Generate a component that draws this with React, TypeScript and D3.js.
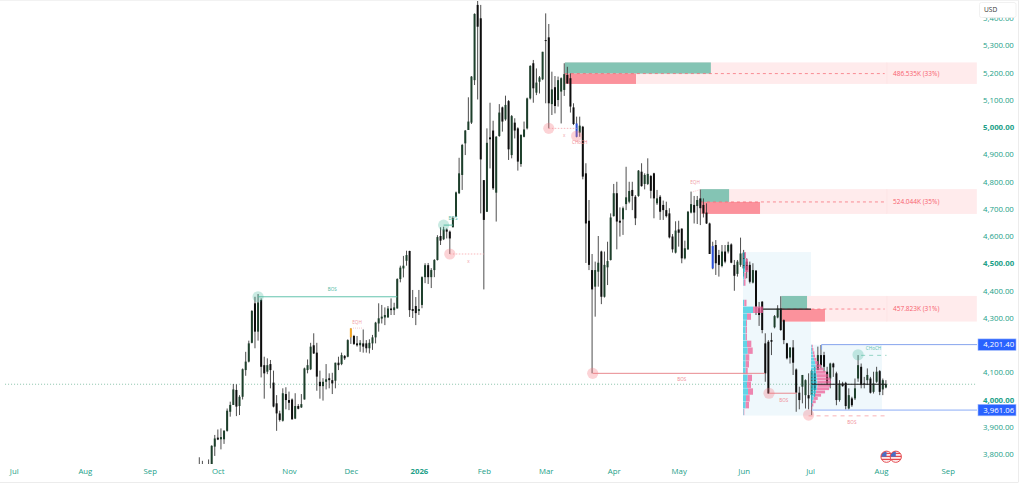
import React, { useEffect, useRef } from 'react';
import * as d3 from 'd3';

// daily candles, left to right
const opens = [
  3750,3745,3745,3750,3755,3827,3860,3854,3854,3885,
  3955,3980,4035,3976,4010,4108,4139,4208,4353,4249,
  4365,4126,4102,4130,4062,3986,3949,3922,4020,3998,
  4000,3930,3976,3971,4000,4108,4111,4199,4172,4065,
  4049,4065,4078,4071,4069,4135,4130,4160,4157,4228,
  4233,4206,4199,4206,4206,4188,4206,4228,4279,4297,
  4301,4301,4334,4328,4334,4442,4481,4509,4545,4332,
  4343,4325,4347,4449,4493,4449,4475,4512,4600,4588,
  4624,4616,4632,4671,4757,4824,4940,4989,5016,5172,
  5448,5399,4805,4689,4962,4987,4759,4967,5072,5028,
  5095,4897,5016,4995,4864,4964,4995,5105,5234,5126,
  5166,5175,5319,5329,5084,5146,5099,5130,5136,5191,
  5179,5072,5013,4979,5001,4830,4656,4475,4414,4469,
  4543,4377,4485,4512,4673,4757,4656,4661,4717,4726,
  4769,4744,4747,4836,4791,4791,4820,4830,4720,4744,
  4714,4695,4683,4598,4539,4624,4627,4518,4551,4686,
  4714,4710,4738,4714,4686,4646,4563,4567,4530,4490,
  4543,4543,4569,4494,4461,4494,4539,4506,4494,4429,
  4473,4335,4359,4206,4212,4218,4265,4301,4334,4291,
  4206,4154,4191,4110,4025,4047,4016,4016,4016,4096,
  4108,4163,4163,4102,4077,4132,4096,3998,4059,4061,
  3967,4004,4004,4077,4120,4059,4071,4077,4028,4065,
  4104,4037,4044,
];
const highs = [
  3788,3775,3755,3780,3832,3870,3890,3894,3888,3967,
  3992,4057,4056,4016,4114,4175,4216,4328,4377,4387,
  4371,4157,4151,4145,4106,4016,3959,4041,4045,4029,
  4004,4023,3983,4020,4117,4147,4208,4243,4208,4106,
  4078,4130,4096,4098,4135,4157,4172,4163,4221,4261,
  4237,4233,4218,4257,4218,4221,4237,4285,4353,4347,
  4338,4343,4371,4355,4445,4491,4527,4546,4546,4402,
  4376,4402,4452,4500,4501,4482,4515,4603,4632,4634,
  4628,4620,4671,4763,4887,4938,4989,5109,5187,5417,
  5466,5448,4805,4995,5089,5023,4967,5084,5075,5115,
  5099,5044,5032,4999,4973,5020,5108,5227,5246,5215,
  5187,5276,5417,5378,5203,5187,5185,5182,5234,5221,
  5197,5087,5038,5038,5004,4867,4732,4534,4506,4600,
  4546,4543,4579,4683,4791,4799,4705,4708,4854,4799,
  4799,4750,4842,4867,4830,4885,4824,4832,4769,4750,
  4730,4726,4702,4607,4654,4656,4628,4583,4692,4763,
  4747,4747,4771,4738,4720,4649,4579,4585,4549,4567,
  4567,4579,4573,4512,4512,4594,4549,4518,4506,4500,
  4475,4358,4361,4243,4218,4245,4310,4346,4379,4294,
  4208,4191,4218,4114,4047,4090,4074,4096,4110,4120,
  4194,4200,4175,4120,4135,4135,4102,4071,4065,4065,
  4041,4010,4077,4163,4132,4083,4114,4083,4102,4120,
  4108,4077,4071,
];
const lows = [
  3735,3730,3730,3735,3745,3793,3851,3817,3837,3882,
  3937,3980,3939,3943,4000,4087,4136,4206,4188,4216,
  4081,4003,4093,4041,3971,3885,3919,3919,3964,3961,
  3927,3928,3964,3969,4000,4096,4108,4167,4032,4003,
  3996,4037,4041,4020,4041,4108,4126,4145,4155,4204,
  4200,4194,4175,4172,4172,4169,4182,4206,4249,4279,
  4273,4301,4310,4310,4334,4430,4448,4491,4303,4299,
  4273,4310,4335,4427,4424,4409,4449,4510,4567,4585,
  4591,4534,4632,4671,4754,4769,4897,4989,5011,5154,
  5101,4683,4404,4688,4848,4769,4653,4964,4983,5023,
  4879,4885,4958,4840,4854,4962,4991,5101,5089,5117,
  5123,5172,5087,4995,5044,5050,5075,5013,5114,5158,
  5053,5007,4962,4964,4808,4501,4475,4096,4304,4414,
  4350,4374,4420,4510,4671,4551,4598,4604,4695,4720,
  4695,4640,4744,4781,4771,4787,4738,4665,4714,4659,
  4659,4668,4591,4539,4536,4561,4500,4514,4549,4683,
  4646,4644,4640,4668,4644,4534,4478,4457,4451,4485,
  4500,4536,4500,4399,4451,4487,4451,4445,4426,4426,
  4310,4270,4243,4065,4022,4163,4261,4298,4252,4203,
  4147,4132,4090,3955,3964,3986,3967,3964,3943,4010,
  4108,4114,4102,4053,4041,4083,3979,3992,4047,3961,
  3961,3973,3998,4065,4041,4041,4053,4022,4022,4061,
  4016,4016,4041,
];
const closes = [
  3755,3750,3750,3758,3830,3857,3853,3862,3885,3959,
  3980,4037,3974,4010,4111,4139,4206,4325,4249,4356,
  4120,4096,4126,4108,3974,3949,3925,4023,3998,3988,
  3927,3976,3966,3983,4114,4126,4194,4169,4084,4049,
  4065,4074,4071,4059,4135,4126,4163,4151,4218,4261,
  4204,4199,4208,4194,4188,4208,4228,4282,4298,4304,
  4310,4334,4328,4338,4442,4484,4491,4530,4328,4325,
  4317,4332,4449,4493,4449,4475,4512,4596,4583,4624,
  4616,4591,4665,4760,4830,4934,4987,5020,5185,5415,
  5368,4881,4659,4942,4955,4775,4964,5053,5020,5081,
  4918,5040,4987,4873,4971,4991,5105,5224,5142,5163,
  5182,5276,5317,5087,5138,5077,5172,5179,5194,5160,
  5075,5011,4964,5005,4818,4646,4494,4404,4475,4502,
  4377,4494,4508,4668,4757,4653,4649,4702,4742,4765,
  4747,4665,4840,4783,4824,4828,4766,4738,4738,4689,
  4695,4673,4595,4551,4620,4612,4518,4555,4689,4717,
  4686,4732,4702,4683,4646,4534,4481,4500,4494,4543,
  4506,4567,4502,4454,4506,4536,4481,4475,4432,4475,
  4341,4310,4255,4096,4022,4212,4306,4334,4255,4218,
  4151,4191,4135,4025,3998,4090,4071,4004,4105,4035,
  4163,4126,4120,4059,4132,4118,3998,4059,4049,3976,
  4016,3979,4041,4126,4053,4057,4090,4025,4059,4102,
  4028,4071,4056,
];
const paintedBars: Record<number, string> = { 49: '#f5a623', 122: '#2a50d8', 166: '#2a50d8' };

const priceTicks = [5400, 5300, 5200, 5100, 5000, 4900, 4800, 4700, 4600, 4500, 4400, 4300, 4100, 4000, 3900, 3800];
const boldPrices = [5000, 4500, 4000];
const monthLabels = ['Jul', 'Aug', 'Sep', 'Oct', 'Nov', 'Dec', '2026', 'Feb', 'Mar', 'Apr', 'May', 'Jun', 'Jul', 'Aug', 'Sep'];
const monthBars = [-60, -37, -16, 6, 29, 49, 71, 92, 112, 134, 155, 176, 197.5, 220.4, 242];

// supply zones: [green from, green to, red to, top, middle, bottom, label]
const zones: [number, number, number, number, number, number, string][] = [
  [118.2, 165.4, 141.2, 5237, 5196, 5158, '486.535K (33%)'],
  [162.2, 171.3, 181.3, 4772, 4725, 4681, '524.044K (35%)'],
  [188.2, 196.5, 202.3, 4380, 4332, 4286, '457.823K (31%)'],
];
const zoneEndBar = 251.4;
const zoneLabelBar = 224.3;
const zoneDashEndBar = 221.6;

// volume profiles, one row per price bin: buy part, sell part
const profile1Top = 4541;
const profile1Step = 25;
const profile1Buy = [15, 25, 20, 13, 7, 0, 0, 13, 100, 40, 30, 27, 27, 40, 47, 27, 27, 27, 47, 40, 50, 30, 27, 7];
const profile1Sell = [15, 25, 35, 17, 18, 0, 0, 22, 100, 40, 10, 13, 13, 43, 50, 36, 33, 20, 43, 40, 50, 37, 33, 6];
const profile2Top = 4201;
const profile2Step = 12;
const profile2Buy = [7, 10, 17, 20, 30, 40, 47, 50, 50, 57, 60, 63, 63, 60, 50, 40, 27, 17, 7, 3];
const profile2Sell = [10, 13, 16, 20, 23, 33, 53, 73, 97, 116, 133, 137, 130, 120, 90, 60, 40, 30, 16, 7];

const greenCircles = [[19, 4377], [79, 4640], [213, 4164]];
const pinkCircles = [[81, 4534], [113, 4995], [122, 4967], [127.2, 4096], [184.2, 4023], [197, 3943]];
// structure lines: from bar, to bar, price, colour, dash
const structureLines: [number, number, number, string, string][] = [
  [19, 64, 4377, '#63c4ae', ''],
  [79, 82, 4640, '#63c4ae', ''],
  [81, 92, 4534, '#f7a6ac', '1.5 1.5'],
  [113, 122, 4995, '#f7a6ac', '1.5 1.5'],
  [127.2, 182.9, 4096, '#e88a90', ''],
  [184.2, 193.2, 4023, '#e88a90', ''],
  [197, 222.2, 3940, '#f9a0a6', '4 4'],
  [214, 222.2, 4162, '#7ccbb8', '4 4'],
];
const tinyLabels: [string, number, number, string][] = [
  ['BOS', 43, 4405, '#4fb8a2'],
  ['BOS', 82, 4666, '#4fb8a2'],
  ['EQH', 51, 4282, '#f09aa4'],
  ['EQH', 160.3, 4795, '#f09aa4'],
  ['x', 87, 4508, '#f09aa4'],
  ['x', 118, 4968, '#f09aa4'],
  ['CHoCH', 123, 4942, '#f08a94'],
  ['BOS', 156, 4074, '#f08a94'],
  ['BOS', 189, 3997, '#f08a94'],
  ['BOS', 211, 3916, '#f08a94'],
  ['CHoCH', 218, 4189, '#5cbfae'],
];

const lastPrice = 4056;
const boxHigh = 4201.4;
const boxLow = 3961.06;
const eventBars = [222.2, 225.2];
const eventPrice = 3790;

const chartRight = 977;
const plotBottom = 464;
const tealText = '#22a088';
const fontFamily = "'Open Sans', 'Noto Sans', sans-serif";

export default function App() {
  const svgRef = useRef<SVGSVGElement>(null);

  useEffect(() => {
    if (!svgRef.current) return;
    const svg = d3.select(svgRef.current);
    svg.selectAll('*').remove();

    const x = d3.scaleLinear().domain([0, 222]).range([199.3, 885.9]);
    const y = d3.scaleLinear().domain([5000, 3800]).range([127, 454]);
    const bodyWidth = 2;

    svg.append('clipPath').attr('id', 'plot')
      .append('rect').attr('x', 0).attr('y', 0).attr('width', chartRight).attr('height', plotBottom);

    const plot = svg.append('g').attr('clip-path', 'url(#plot)');

    // volume profile boxes go first, the zones sit over them
    const drawProfileBox = (fromBar: number, toBar: number, top: number, step: number, rows: number) => {
      plot.append('rect').attr('x', x(fromBar)).attr('y', y(top)).attr('width', x(toBar) - x(fromBar))
        .attr('height', y(top - step * rows) - y(top)).attr('fill', '#eff8fc');
    };
    drawProfileBox(175.8, 197.8, profile1Top, profile1Step, profile1Buy.length);
    drawProfileBox(197.8, 220.7, profile2Top, profile2Step, profile2Buy.length);

    zones.forEach(([from, greenTo, redTo, top, mid, bottom]) => {
      plot.append('rect').attr('x', x(from)).attr('y', y(top)).attr('width', x(zoneEndBar) - x(from))
        .attr('height', y(bottom) - y(top)).attr('fill', '#ffebec');
      plot.append('rect').attr('x', x(from)).attr('y', y(top)).attr('width', x(greenTo) - x(from))
        .attr('height', y(mid) - y(top)).attr('fill', '#84c4b4');
      plot.append('rect').attr('x', x(from) + 0.5).attr('y', y(mid)).attr('width', x(redTo) - x(from) - 0.5)
        .attr('height', y(bottom) - y(mid)).attr('fill', '#fb929c');
      plot.append('line').attr('x1', x(from)).attr('x2', x(zoneDashEndBar)).attr('y1', y(mid)).attr('y2', y(mid))
        .attr('stroke', '#f7636f').attr('stroke-width', 0.7).attr('stroke-dasharray', '3 3');
      plot.append('line').attr('x1', x(222.3)).attr('x2', x(222.3)).attr('y1', y(top)).attr('y2', y(bottom))
        .attr('stroke', '#fde0e2').attr('stroke-width', 0.6);
    });

    // last price dotted line
    plot.append('line').attr('x1', x(-62.8)).attr('x2', chartRight).attr('y1', y(lastPrice)).attr('y2', y(lastPrice))
      .attr('stroke', '#6fb596').attr('stroke-width', 0.8).attr('stroke-dasharray', '1 2');

    // candles
    const bars = d3.range(opens.length);
    const candles = plot.append('g');
    candles.selectAll('line').data(bars).join('line')
      .attr('x1', d => x(d)).attr('x2', d => x(d))
      .attr('y1', d => y(highs[d])).attr('y2', d => y(lows[d]))
      .attr('stroke', '#3a3a3a').attr('stroke-width', 0.9);
    candles.selectAll('rect').data(bars).join('rect')
      .attr('x', d => x(d) - bodyWidth / 2)
      .attr('width', bodyWidth)
      .attr('y', d => y(Math.max(opens[d], closes[d])))
      .attr('height', d => Math.max(Math.abs(y(opens[d]) - y(closes[d])), 1))
      .attr('fill', d => paintedBars[d] ?? (closes[d] >= opens[d] ? '#1d3f2b' : '#0d0d0d'));

    // profile rows are see-through, candles show under them
    const volumeWidth = d3.scaleLinear().domain([0, 100]).range([0, 10]);
    const drawProfileRows = (fromBar: number, top: number, step: number, buy: number[], sell: number[]) => {
      const rows = plot.append('g').attr('opacity', 0.72);
      buy.forEach((b, i) => {
        const rowY = y(top - step * i);
        const rowH = Math.max(y(top - step * (i + 1)) - rowY - 0.4, 0.5);
        rows.append('rect').attr('x', x(fromBar)).attr('y', rowY).attr('width', volumeWidth(b)).attr('height', rowH)
          .attr('fill', '#2cc8e0');
        rows.append('rect').attr('x', x(fromBar) + volumeWidth(b)).attr('y', rowY).attr('width', volumeWidth(sell[i])).attr('height', rowH)
          .attr('fill', '#ee5a94');
      });
    };
    drawProfileRows(175.8, profile1Top, profile1Step, profile1Buy, profile1Sell);
    drawProfileRows(197.8, profile2Top, profile2Step, profile2Buy, profile2Sell);

    // structure lines, circles
    structureLines.forEach(([from, to, price, color, dash]) => {
      plot.append('line').attr('x1', x(from)).attr('x2', x(to)).attr('y1', y(price)).attr('y2', y(price))
        .attr('stroke', color).attr('stroke-width', dash ? 0.8 : 1).attr('stroke-dasharray', dash);
    });
    plot.selectAll('circle.green').data(greenCircles).join('circle').attr('class', 'green')
      .attr('cx', d => x(d[0])).attr('cy', d => y(d[1])).attr('r', 5.6).attr('fill', 'rgba(60,180,150,0.28)');
    plot.selectAll('circle.pink').data(pinkCircles).join('circle').attr('class', 'pink')
      .attr('cx', d => x(d[0])).attr('cy', d => y(d[1])).attr('r', 5.6).attr('fill', 'rgba(245,120,130,0.33)');

    // POC lines
    plot.append('line').attr('x1', x(182.3)).attr('x2', x(197.8)).attr('y1', y(4332)).attr('y2', y(4332))
      .attr('stroke', '#222').attr('stroke-width', 1.2);
    plot.append('line').attr('x1', x(198)).attr('x2', x(222.2)).attr('y1', y(lastPrice)).attr('y2', y(lastPrice))
      .attr('stroke', '#222').attr('stroke-width', 1.2);

    // range box lines
    plot.append('path')
      .attr('d', `M${x(201.2)},${y(boxHigh) + 5}V${y(boxHigh)}H${chartRight}`)
      .attr('fill', 'none').attr('stroke', '#86a4ee').attr('stroke-width', 1);
    plot.append('line').attr('x1', x(198.1)).attr('x2', chartRight).attr('y1', y(boxLow)).attr('y2', y(boxLow))
      .attr('stroke', '#bccffa').attr('stroke-width', 1.8);

    // EQH dashes
    plot.append('line').attr('x1', x(159.6)).attr('x2', x(162.1)).attr('y1', y(4762)).attr('y2', y(4771))
      .attr('stroke', '#f7a6ac').attr('stroke-width', 0.6).attr('stroke-dasharray', '1 1');
    plot.append('line').attr('x1', x(49.7)).attr('x2', x(53)).attr('y1', y(4262)).attr('y2', y(4262))
      .attr('stroke', '#f7a6ac').attr('stroke-width', 0.6).attr('stroke-dasharray', '1 1');

    // labels
    tinyLabels.forEach(([text, bar, price, color]) => {
      plot.append('text').attr('x', x(bar)).attr('y', y(price)).attr('dy', '0.35em')
        .attr('text-anchor', 'middle').attr('font-size', 4.6).attr('font-family', fontFamily)
        .attr('fill', color).text(text);
    });
    zones.forEach(([, , , , mid, , label]) => {
      plot.append('text').attr('x', x(zoneLabelBar)).attr('y', y(mid)).attr('dy', '0.35em')
        .attr('font-size', 6.5).attr('font-family', fontFamily).attr('fill', '#f7606c').text(label);
    });

    // event flags
    eventBars.forEach(bar => {
      const cx = x(bar);
      const cy = y(eventPrice);
      const id = `flag${bar}`;
      const flag = svg.append('g');
      flag.append('clipPath').attr('id', id).append('circle').attr('cx', cx).attr('cy', cy).attr('r', 5.6);
      const inner = flag.append('g').attr('clip-path', `url(#${id})`);
      inner.append('rect').attr('x', cx - 6).attr('y', cy - 6).attr('width', 12).attr('height', 12).attr('fill', '#fff');
      d3.range(3).forEach(i => {
        inner.append('rect').attr('x', cx - 6).attr('y', cy - 4 + i * 3).attr('width', 12).attr('height', 1.4).attr('fill', '#e5484d');
      });
      inner.append('rect').attr('x', cx - 6).attr('y', cy - 6).attr('width', 6).attr('height', 6).attr('fill', '#4a6fc4');
      flag.append('circle').attr('cx', cx).attr('cy', cy).attr('r', 5.6).attr('fill', 'none').attr('stroke', '#e5484d').attr('stroke-width', 1);
    });

    // price axis
    const priceAxis = svg.append('g').attr('transform', `translate(${chartRight},0)`)
      .call(d3.axisRight(y).tickValues(priceTicks).tickSize(0).tickPadding(6).tickFormat(d => d3.format(',.2f')(d as number)));
    priceAxis.select('.domain').remove();
    priceAxis.selectAll('text')
      .attr('font-family', fontFamily).attr('font-size', 7.8).attr('fill', tealText)
      .attr('font-weight', d => (boldPrices.includes(d as number) ? 700 : 400));

    // time axis
    const timeAxis = svg.append('g').attr('transform', `translate(0,${plotBottom})`)
      .call(d3.axisBottom(x).tickValues(monthBars).tickSize(0).tickPadding(4).tickFormat((_, i) => monthLabels[i]));
    timeAxis.select('.domain').remove();
    timeAxis.selectAll('text')
      .attr('font-family', fontFamily).attr('font-size', 7.8).attr('fill', tealText)
      .attr('font-weight', (_, i) => (monthLabels[i] === '2026' ? 700 : 400));

    // price tags
    [boxHigh, boxLow].forEach(price => {
      svg.append('rect').attr('x', 978).attr('y', y(price) - 5.7).attr('width', 38).attr('height', 11.4)
        .attr('fill', '#2962ff').attr('stroke', '#9db8fb').attr('stroke-width', 0.6);
      svg.append('text').attr('x', 983.3).attr('y', y(price)).attr('dy', '0.35em')
        .attr('font-family', fontFamily).attr('font-size', 7.8).attr('fill', '#fff')
        .text(d3.format(',.2f')(price));
    });

    // currency box
    svg.append('rect').attr('x', 979.5).attr('y', 2.5).attr('width', 36.5).attr('height', 15).attr('rx', 2)
      .attr('fill', '#fff').attr('stroke', '#eeeeee').attr('stroke-width', 0.8);
    svg.append('text').attr('x', 984).attr('y', 9.5).attr('dy', '0.35em')
      .attr('font-family', fontFamily).attr('font-size', 6.6).attr('fill', '#333').text('USD');

    // frame
    svg.append('line').attr('x1', 1018.5).attr('x2', 1018.5).attr('y1', 0).attr('y2', 482)
      .attr('stroke', '#ececec');
    svg.append('line').attr('x1', 0).attr('x2', 1018.5).attr('y1', 482.5).attr('y2', 482.5)
      .attr('stroke', '#ececec');
    svg.append('line').attr('x1', 0).attr('x2', 1018.5).attr('y1', 0.5).attr('y2', 0.5)
      .attr('stroke', '#f2f2f2');
  }, []);

  return (
    <svg
      ref={svgRef}
      width={1024}
      height={485}
      style={{ position: 'absolute', left: 0, top: 0, background: '#fff' }}
    />
  );
}
